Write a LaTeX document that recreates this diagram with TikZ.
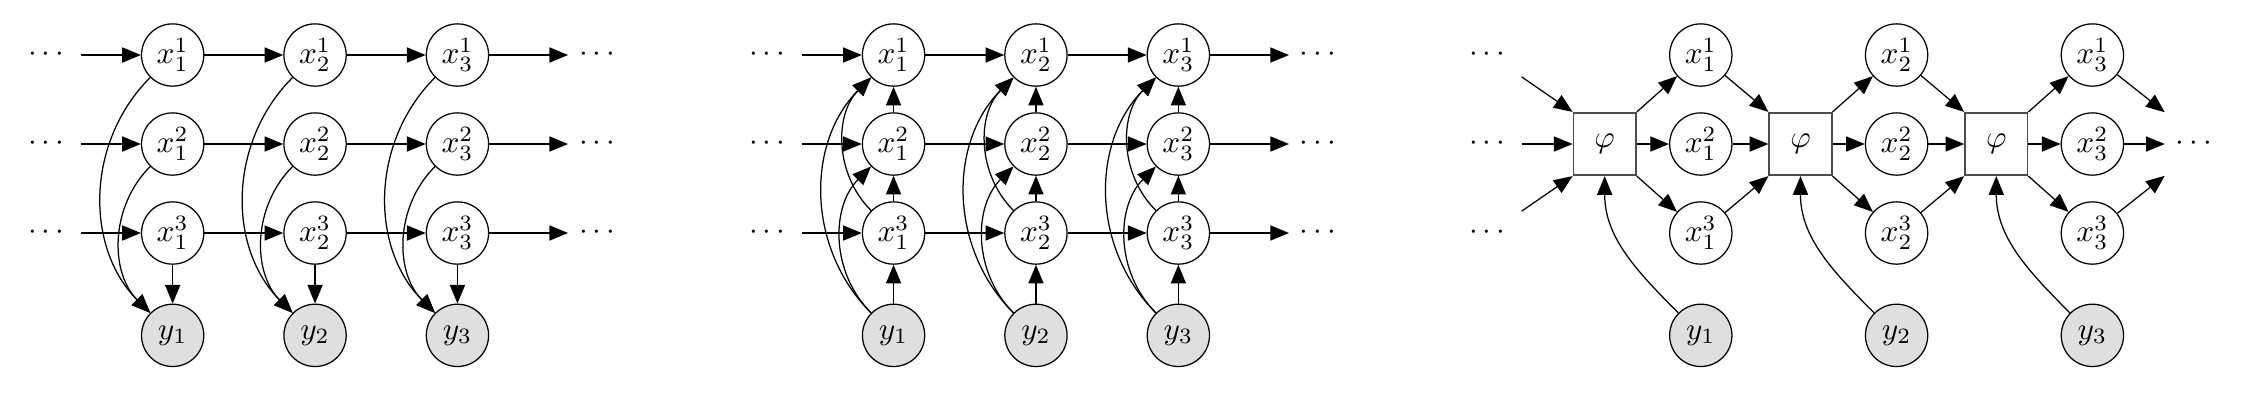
\documentclass[tikz,border=0pt]{standalone}
\usepackage{amsmath,amssymb}
\usepackage{tikz}
\usetikzlibrary{calc}
\usetikzlibrary{arrows.meta}

\begin{document}
\begin{tikzpicture}[var/.style={circle,draw,minimum size=7mm,inner sep=0pt},
	obs/.style={var,fill=gray!25},
	fac/.style={draw=black!70,line width=.6pt,minimum size=7mm,inner sep=0pt},
	dts/.style={minimum size=7mm,inner sep=0pt},
	>={Triangle[length=2.1mm,width=1.7mm]}]
	\useasboundingbox (0,.618) rectangle (25.326,-4.034);
	%		\draw [thin,densely dashed](0,.6)grid(25.3,-4);
	
	% first chain: the x's point down to y
	\node[dts] (l1) at (.55,0) {$\cdots$};
	\node[dts] (l2) at (.55,-1) {$\cdots$};
	\node[dts] (l3) at (.55,-2) {$\cdots$};
	\node[var] (x11) at (1.94,0) {$x_1^1$};
	\node[var] (x12) at (1.94,-1) {$x_1^2$};
	\node[var] (x13) at (1.94,-2) {$x_1^3$};
	\node[var] (x21) at (3.54,0) {$x_2^1$};
	\node[var] (x22) at (3.54,-1) {$x_2^2$};
	\node[var] (x23) at (3.54,-2) {$x_2^3$};
	\node[var] (x31) at (5.14,0) {$x_3^1$};
	\node[var] (x32) at (5.14,-1) {$x_3^2$};
	\node[var] (x33) at (5.14,-2) {$x_3^3$};
	\node[obs] (y1) at (1.94,-3.15) {$y_1$};
	\node[obs] (y2) at (3.54,-3.15) {$y_2$};
	\node[obs] (y3) at (5.14,-3.15) {$y_3$};
	\node[dts] (r1) at (6.74,0) {$\cdots$};
	\node[dts] (r2) at (6.74,-1) {$\cdots$};
	\node[dts] (r3) at (6.74,-2) {$\cdots$};
	\draw[->] (l1) -- (x11); \draw[->] (x11) -- (x21); \draw[->] (x21) -- (x31); \draw[->] (x31) -- (r1);
	\draw[->] (l2) -- (x12); \draw[->] (x12) -- (x22); \draw[->] (x22) -- (x32); \draw[->] (x32) -- (r2);
	\draw[->] (l3) -- (x13); \draw[->] (x13) -- (x23); \draw[->] (x23) -- (x33); \draw[->] (x33) -- (r3);
	\draw[->] (x13) -- (y1); \draw[->] (x23) -- (y2); \draw[->] (x33) -- (y3);
	\draw[->] (x11) to[out=-135,in=135] (y1); \draw[->] (x12) to[out=-135,in=135] (y1);
	\draw[->] (x21) to[out=-135,in=135] (y2); \draw[->] (x22) to[out=-135,in=135] (y2);
	\draw[->] (x31) to[out=-135,in=135] (y3); \draw[->] (x32) to[out=-135,in=135] (y3);
	
	% second chain: same places, arrows turned upwards
	\coordinate (xp) at (8.1,0);
	\node[dts] (lb1) at ($(l1)+(xp)$) {$\cdots$};
	\node[dts] (lb2) at ($(l2)+(xp)$) {$\cdots$};
	\node[dts] (lb3) at ($(l3)+(xp)$) {$\cdots$};
	\node[var] (xb11) at ($(x11)+(xp)$) {$x_1^1$};
	\node[var] (xb12) at ($(x12)+(xp)$) {$x_1^2$};
	\node[var] (xb13) at ($(x13)+(xp)$) {$x_1^3$};
	\node[var] (xb21) at ($(x21)+(xp)$) {$x_2^1$};
	\node[var] (xb22) at ($(x22)+(xp)$) {$x_2^2$};
	\node[var] (xb23) at ($(x23)+(xp)$) {$x_2^3$};
	\node[var] (xb31) at ($(x31)+(xp)$) {$x_3^1$};
	\node[var] (xb32) at ($(x32)+(xp)$) {$x_3^2$};
	\node[var] (xb33) at ($(x33)+(xp)$) {$x_3^3$};
	\node[obs] (yb1) at ($(y1)+(xp)$) {$y_1$};
	\node[obs] (yb2) at ($(y2)+(xp)$) {$y_2$};
	\node[obs] (yb3) at ($(y3)+(xp)$) {$y_3$};
	\node[dts] (rb1) at ($(r1)+(xp)$) {$\cdots$};
	\node[dts] (rb2) at ($(r2)+(xp)$) {$\cdots$};
	\node[dts] (rb3) at ($(r3)+(xp)$) {$\cdots$};
	\draw[->] (lb1) -- (xb11); \draw[->] (xb11) -- (xb21); \draw[->] (xb21) -- (xb31); \draw[->] (xb31) -- (rb1);
	\draw[->] (lb2) -- (xb12); \draw[->] (xb12) -- (xb22); \draw[->] (xb22) -- (xb32); \draw[->] (xb32) -- (rb2);
	\draw[->] (lb3) -- (xb13); \draw[->] (xb13) -- (xb23); \draw[->] (xb23) -- (xb33); \draw[->] (xb33) -- (rb3);
	\draw[->] (yb1) -- (xb13); \draw[->] (xb13) -- (xb12); \draw[->] (xb12) -- (xb11);
	\draw[->] (yb2) -- (xb23); \draw[->] (xb23) -- (xb22); \draw[->] (xb22) -- (xb21);
	\draw[->] (yb3) -- (xb33); \draw[->] (xb33) -- (xb32); \draw[->] (xb32) -- (xb31);
	\draw[->] (yb1) to[out=135,in=-135] (xb11); \draw[->] (yb1) to[out=135,in=-135] (xb12); \draw[->] (xb13) to[out=135,in=-135] (xb11);
	\draw[->] (yb2) to[out=135,in=-135] (xb21); \draw[->] (yb2) to[out=135,in=-135] (xb22); \draw[->] (xb23) to[out=135,in=-135] (xb21);
	\draw[->] (yb3) to[out=135,in=-135] (xb31); \draw[->] (yb3) to[out=135,in=-135] (xb32); \draw[->] (xb33) to[out=135,in=-135] (xb31);
	
	% third chain: factor boxes
	\node[dts] (lc1) at (16.74,0) {$\cdots$};
	\node[dts] (lc2) at (16.74,-1) {$\cdots$};
	\node[dts] (lc3) at (16.74,-2) {$\cdots$};
	\node[fac] (phi1) at (18.03,-1) {$\varphi$};
	\node[fac] (phi2) at (20.23,-1) {$\varphi$};
	\node[fac] (phi3) at (22.43,-1) {$\varphi$};
	\node[var] (xc11) at (19.11,0) {$x_1^1$};
	\node[var] (xc12) at (19.11,-1) {$x_1^2$};
	\node[var] (xc13) at (19.11,-2) {$x_1^3$};
	\node[var] (xc21) at (21.31,0) {$x_2^1$};
	\node[var] (xc22) at (21.31,-1) {$x_2^2$};
	\node[var] (xc23) at (21.31,-2) {$x_2^3$};
	\node[var] (xc31) at (23.51,0) {$x_3^1$};
	\node[var] (xc32) at (23.51,-1) {$x_3^2$};
	\node[var] (xc33) at (23.51,-2) {$x_3^3$};
	\node[obs] (yc1) at (19.11,-3.15) {$y_1$};
	\node[obs] (yc2) at (21.31,-3.15) {$y_2$};
	\node[obs] (yc3) at (23.51,-3.15) {$y_3$};
	\node[dts] (rc) at (24.68,-1) {$\cdots$};
	\draw[->] (lc1) -- (phi1.north west); \draw[->] (lc2) -- (phi1); \draw[->] (lc3) -- (phi1.south west);
	\draw[->] (phi1.north east) -- (xc11); \draw[->] (phi1) -- (xc12); \draw[->] (phi1.south east) -- (xc13);
	\draw[->] (xc11) -- (phi2.north west); \draw[->] (xc12) -- (phi2); \draw[->] (xc13) -- (phi2.south west);
	\draw[->] (phi2.north east) -- (xc21); \draw[->] (phi2) -- (xc22); \draw[->] (phi2.south east) -- (xc23);
	\draw[->] (xc21) -- (phi3.north west); \draw[->] (xc22) -- (phi3); \draw[->] (xc23) -- (phi3.south west);
	\draw[->] (phi3.north east) -- (xc31); \draw[->] (phi3) -- (xc32); \draw[->] (phi3.south east) -- (xc33);
	\draw[->] (xc31) -- (rc.north west); \draw[->] (xc32) -- (rc); \draw[->] (xc33) -- (rc.south west);
	\draw[->] (yc1) to[out=135,in=-90] (phi1);
	\draw[->] (yc2) to[out=135,in=-90] (phi2);
	\draw[->] (yc3) to[out=135,in=-90] (phi3);
	
\end{tikzpicture}
\end{document}
